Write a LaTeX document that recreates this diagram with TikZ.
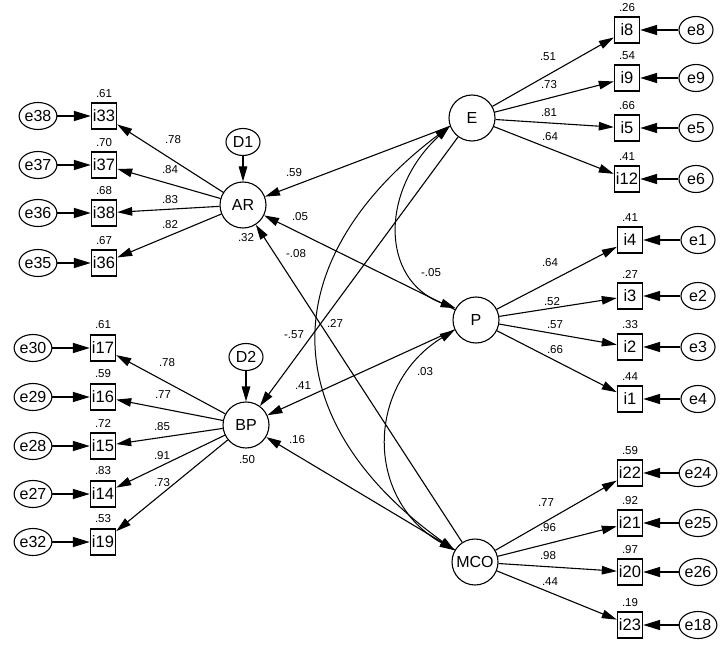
\documentclass[tikz,border=0pt]{standalone}
\usepackage{fontspec}
\setmainfont{Liberation Sans}
\usepackage{tikz}
\usetikzlibrary{positioning}
\usetikzlibrary{arrows.meta,shapes}

\begin{document}
\begin{tikzpicture}[x=1pt, y=-1pt,
  latent/.style={draw, circle, minimum size=46pt, inner sep=0pt, line width=1.1pt, font=\fontsize{16}{16}\selectfont},
  err/.style={draw, ellipse, minimum width=34pt, minimum height=27pt, inner sep=0pt, line width=1.1pt, font=\fontsize{16}{16}\selectfont},
  obs/.style={draw, rectangle, minimum width=25pt, minimum height=26pt, inner sep=0pt, line width=1.4pt, font=\fontsize{16.5}{16.5}\selectfont},
  val/.style={inner sep=0pt, font=\fontsize{11.5}{11.5}\selectfont},
  load/.style={line width=1.1pt, -{Triangle[length=15pt,width=8.5pt]}},
  erra/.style={line width=1.6pt, -{Triangle[length=17pt,width=10pt]}},
  cov/.style={line width=1pt, {Triangle[length=15pt,width=8.5pt]}-{Triangle[length=15pt,width=8.5pt]}}]

  \useasboundingbox (0,0) rectangle (720,655);

	%latent variables
  \node[latent] (AR) at (243,205) {AR};
  \node[latent] (BP) at (246,425) {BP};
  \node[latent] (E) at (472,118) {E};
  \node[latent] (P) at (476,320) {P};
  \node[latent] (MCO) at (475,562) {MCO};
  \node[err] (D1) at (243,142) {D1};
  \node[err] (D2) at (246,357) {D2};
  \node[val] (rAR) at (246,238) {.32};
  \node[val] (rBP) at (247,460) {.50};

	%indicators of AR
 \def\dx{104};
 \def\ex{38};
    \foreach \ind/\er/\y/\rr/\lx/\ly/\lv in {i33/e38/116/.61/173/140/.78, i37/e37/165/.70/170/170/.84, i38/e36/213/.68/170/200/.83, i36/e35/263/.67/170/225/.82}{
        \node[obs] (\ind) at (\dx,\y) {\ind};
        \node[err] (\er) at (\ex,\y) {\er};
        \node[val] (r\ind) at (\dx,\y-22) {\rr};
        \node[val] (l\ind) at (\lx,\ly) {\lv};
        \draw[erra] (\er) -- (\ind);
        \draw[load] (AR) -- (\ind);
    }

	%indicators of BP
 \def\dx{103};
 \def\ex{33};
    \foreach \ind/\er/\y/\rr/\lx/\ly/\lv in {i17/e30/348/.61/167/363/.78, i16/e29/397/.59/163/395/.77, i15/e28/446/.72/162/427/.85, i14/e27/494/.83/162/456/.91, i19/e32/542/.53/162/483/.73}{
        \node[obs] (\ind) at (\dx,\y) {\ind};
        \node[err] (\er) at (\ex,\y) {\er};
        \node[val] (r\ind) at (\dx,\y-23) {\rr};
        \node[val] (l\ind) at (\lx,\ly) {\lv};
        \draw[erra] (\er) -- (\ind);
        \draw[load] (BP) -- (\ind);
    }

	%indicators of E
 \def\dx{627};
 \def\ex{696};
    \foreach \ind/\er/\y/\rr/\lx/\ly/\lv in {i8/e8/30/.26/548/57/.51, i9/e9/78/.54/549/85/.73, i5/e5/128/.66/549/113/.81, i12/e6/179/.41/550/137/.64}{
        \node[obs] (\ind) at (\dx,\y) {\ind};
        \node[err] (\er) at (\ex,\y) {\er};
        \node[val] (r\ind) at (\dx,\y-22) {\rr};
        \node[val] (l\ind) at (\lx,\ly) {\lv};
        \draw[erra] (\er) -- (\ind);
        \draw[load] (E) -- (\ind);
    }

	%indicators of P
 \def\dx{630};
 \def\ex{698};
    \foreach \ind/\er/\y/\rr/\lx/\ly/\lv in {i4/e1/240/.41/550/263/.64, i3/e2/296/.27/552/302/.52, i2/e3/347/.33/555/325/.57, i1/e4/399/.44/555/350/.66}{
        \node[obs] (\ind) at (\dx,\y) {\ind};
        \node[err] (\er) at (\ex,\y) {\er};
        \node[val] (r\ind) at (\dx,\y-22) {\rr};
        \node[val] (l\ind) at (\lx,\ly) {\lv};
        \draw[erra] (\er) -- (\ind);
        \draw[load] (P) -- (\ind);
    }

	%indicators of MCO
 \def\dx{630};
 \def\ex{698};
    \foreach \ind/\er/\y/\rr/\lx/\ly/\lv in {i22/e24/473/.59/546/503/.77, i21/e25/523/.92/548/528/.96, i20/e26/572/.97/548/556/.98, i23/e18/625/.19/550/582/.44}{
        \node[obs] (\ind) at (\dx,\y) {\ind};
        \node[err] (\er) at (\ex,\y) {\er};
        \node[val] (r\ind) at (\dx,\y-22) {\rr};
        \node[val] (l\ind) at (\lx,\ly) {\lv};
        \draw[erra] (\er) -- (\ind);
        \draw[load] (MCO) -- (\ind);
    }

	%structural paths
  \draw[load] (D1) -- (AR);
  \draw[load] (D2) -- (BP);
  \draw[load] (E) -- (AR);
  \draw[load] (P) -- (AR);
  \draw[load] (MCO) -- (AR);
  \draw[load] (E) -- (BP);
  \draw[load] (P) -- (BP);
  \draw[load] (MCO) -- (BP);

	%covariances
  \draw[cov] (E.200) .. controls (380,190) and (380,280) .. (P.150);
  \draw[cov] (E.200) .. controls (273,260) and (273,420) .. (MCO.150);
  \draw[cov] (P.205) .. controls (365,385) and (365,500) .. (MCO.150);

  \node[val] (lEAR) at (294,173) {.59};
  \node[val] (lPAR) at (300,217) {.05};
  \node[val] (lMAR) at (296,254) {-.08};
  \node[val] (lEP) at (431,273) {-.05};
  \node[val] (lEM) at (335,323) {.27};
  \node[val] (lEBP) at (294,335) {-.57};
  \node[val] (lPM) at (425,372) {.03};
  \node[val] (lPBP) at (303,386) {.41};
  \node[val] (lMBP) at (297,440) {.16};

\end{tikzpicture}
\end{document}
